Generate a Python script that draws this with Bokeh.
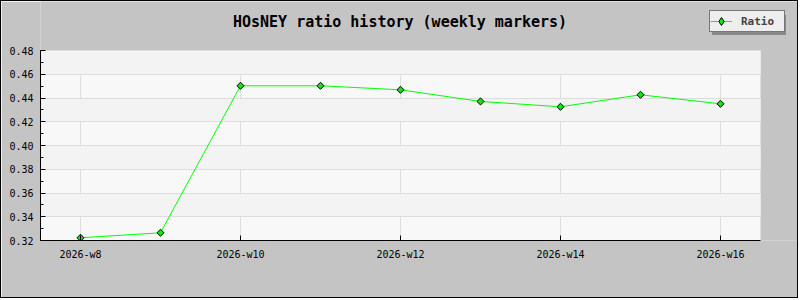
from bokeh.plotting import figure
from bokeh.models import (Range1d, FixedTicker, SingleIntervalTicker, NumeralTickFormatter,
                          Legend, LegendItem, Label, BoxAnnotation)
from bokeh.embed import file_html
from bokeh.resources import INLINE

weeks = [8, 9, 10, 11, 12, 13, 14, 15, 16]
ratio = [0.3223, 0.3265, 0.4503, 0.4503, 0.4469, 0.4371, 0.4326, 0.4427, 0.4351]
label_weeks = [8, 10, 12, 14, 16]
week_labels = ["2026-w8", "2026-w10", "2026-w12", "2026-w14", "2026-w16"]
title_text = "HOsNEY ratio history (weekly markers)"
series_name = "Ratio"

MONO = "DejaVu Sans Mono"
BG = "#C4C4C4"
GREEN = "#1AE01A"

# plot-area geometry (canvas pixels) -> the data window
X0, X1 = 7.5, 16.5          # data at plot-area left/right
Y0, Y1 = 0.32, 0.48         # data at plot-area bottom/top
PL, PR, PT, PB = 40, 760, 50, 240   # plot area in page pixels
W, H = 800, 300
FL, FT, FR, FB = 40, 1, 799, 240    # frame in page pixels (extends to top/right edge)
xs = (X1 - X0) / (PR - PL)
ys = (Y1 - Y0) / (PB - PT)
x_end = X1 + (FR - PR) * xs
y_end = Y1 + (PT - FT) * ys

p = figure(width=W - 2, height=H - 2, output_backend="svg", toolbar_location=None,
           x_range=Range1d(X0, x_end), y_range=Range1d(Y0, y_end),
           min_border_left=FL - 1, min_border_right=0, min_border_top=0,
           min_border_bottom=(H - 1) - FB)
p.styles = {"border": "1px solid black"}
p.border_fill_color = BG
p.background_fill_color = BG
p.outline_line_color = None

# light plot area
p.add_layout(BoxAnnotation(left=X0, right=X1, bottom=Y0, top=Y1, fill_color="#F8F8F8",
                           fill_alpha=1.0, line_color=None, level="image"))

line = p.line(weeks, ratio, line_color="#00FF00", line_width=1)
# diamond glyph used for the legend swatch (hidden beneath the plotted markers)
legend_marker = p.scatter(weeks, ratio, marker="diamond", size=4,
                          fill_color=GREEN, line_color="black", line_width=1)
pts = p.scatter(weeks, ratio, marker="square", size=5, angle=45, angle_units="deg",
                fill_color=GREEN, line_color="black", line_width=1)
ghost_line = p.line(weeks, ratio, line_alpha=0)

# axes
xa = p.xaxis[0]
xa.ticker = FixedTicker(ticks=label_weeks)
xa.major_label_overrides = {w: l for w, l in zip(label_weeks, week_labels)}
xa.bounds = (X0, X1)
ya = p.yaxis[0]
ya.ticker = SingleIntervalTicker(interval=0.02, num_minor_ticks=2)
ya.formatter = NumeralTickFormatter(format="0.00")
ya.bounds = (Y0, Y1)
for ax in (xa, ya):
    ax.axis_line_color = "black"
    ax.major_tick_line_color = "black"
    ax.minor_tick_line_color = "black"
    ax.major_tick_in = 5
    ax.major_tick_out = 0
    ax.minor_tick_in = 3
    ax.minor_tick_out = 0
    ax.major_label_text_font = MONO
    ax.major_label_text_font_size = "10px"
    ax.major_label_text_color = "black"
xa.minor_tick_line_color = None
ya.major_label_standoff = 7
xa.major_label_standoff = 8

p.xgrid.ticker = FixedTicker(ticks=label_weeks)
p.xgrid.bounds = (X0, X1)
p.xgrid.cross_bounds = (Y0, Y1)
p.xgrid.grid_line_color = "#DDDDDD"
p.ygrid.bounds = (Y0, Y1)
p.ygrid.cross_bounds = (X0, X1)
p.ygrid.grid_line_color = "#DDDDDD"
p.ygrid.band_fill_color = "#F3F3F3"
p.ygrid.band_fill_alpha = 1.0

# title (screen units are relative to the frame, y upwards from its bottom)
p.add_layout(Label(x=399.5 - FL, y=FB - 21, x_units="screen", y_units="screen",
                   text=title_text, text_align="center", text_baseline="alphabetic",
                   text_font=MONO, text_font_size="15px", text_font_style="bold",
                   text_color="black"))

common = dict(orientation="vertical", label_text_font=MONO, label_text_font_size="11px",
              label_text_font_style="bold", glyph_width=22, glyph_height=20,
              label_standoff=9, padding=0, margin=0, label_height=20, label_width=43)
LX, LT, LH = 709, 9, 20
LY = FB - (LT + LH) - 3
shadow = Legend(items=[LegendItem(label=" ", renderers=[ghost_line])],
                location=(LX - FL + 3, LY - 3),
                background_fill_color="#888888", background_fill_alpha=1.0,
                border_line_color=None, label_text_alpha=0, **common)
legend = Legend(items=[LegendItem(label=series_name, renderers=[line, legend_marker])],
                location=(LX - FL, LY),
                background_fill_color="#EEEEEE", background_fill_alpha=1.0,
                border_line_color="black", border_line_width=1, **common)
p.add_layout(shadow)
p.add_layout(legend)

open("out.html", "w").write(file_html(p, INLINE))
